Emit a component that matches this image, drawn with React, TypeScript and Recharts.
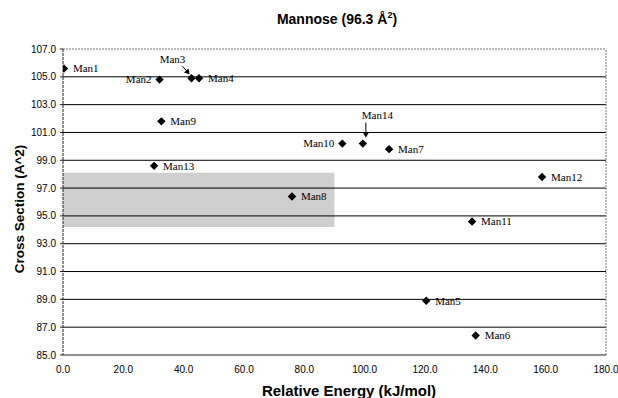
import React from 'react';
import { ScatterChart, Scatter, XAxis, YAxis, ReferenceArea, ReferenceLine } from 'recharts';

const names = ['Man1', 'Man2', 'Man3', 'Man4', 'Man5', 'Man6', 'Man7', 'Man8', 'Man9', 'Man10', 'Man11', 'Man12', 'Man13', 'Man14'];
const energies = [0.3, 32.0, 42.6, 45.1, 120.4, 136.8, 108.1, 75.9, 32.6, 92.6, 135.6, 158.8, 30.2, 99.4];
const sections = [105.6, 104.8, 104.9, 104.9, 88.9, 86.4, 99.8, 96.4, 101.8, 100.2, 94.6, 97.8, 98.6, 100.2];
const xTicks = [0, 20, 40, 60, 80, 100, 120, 140, 160, 180];
const yTicks = [85, 87, 89, 91, 93, 95, 97, 99, 101, 103, 105, 107];
const bandX = [0, 90];
const bandY = [94.2, 98.1];
const leftLabeled = ['Man2', 'Man10'];
const arrowLabeled = ['Man3', 'Man14'];

const data = names.map((n, i) => ({ name: n, x: energies[i], y: sections[i] }));

const SANS = '"Liberation Sans", Arial, sans-serif';
const SERIF = '"Liberation Serif", "Times New Roman", serif';

function arrow(x1: number, y1: number, x2: number, y2: number) {
  const dx = x2 - x1, dy = y2 - y1;
  const len = Math.sqrt(dx * dx + dy * dy);
  const ux = dx / len, uy = dy / len;
  const hl = 5, hw = 3;
  const bx = x2 - ux * hl, by = y2 - uy * hl;
  const p1 = `${bx - uy * hw},${by + ux * hw}`;
  const p2 = `${bx + uy * hw},${by - ux * hw}`;
  return (
    <g>
      <line x1={x1} y1={y1} x2={bx} y2={by} stroke="#000" strokeWidth={1} />
      <polygon points={`${x2},${y2} ${p1} ${p2}`} fill="#000" />
    </g>
  );
}

const Point = (props: any) => {
  const { cx, cy, payload } = props;
  if (cx == null || cy == null) return null;
  const r = 4.2;
  const name = payload.name as string;
  let label: React.ReactNode;
  if (leftLabeled.includes(name)) {
    label = (
      <text x={cx - 8} y={cy} dy="0.35em" textAnchor="end" fontFamily={SERIF} fontSize={11} fill="#000">{name}</text>
    );
  } else if (arrowLabeled.includes(name)) {
    if (name === 'Man3') {
      label = (
        <g>
          <text x={cx - 19} y={cy - 15} textAnchor="middle" fontFamily={SERIF} fontSize={11} fill="#000">{name}</text>
          {arrow(cx - 9, cy - 12, cx - 2, cy - 4)}
        </g>
      );
    } else {
      label = (
        <g>
          <text x={cx - 1} y={cy - 25} textAnchor="start" fontFamily={SERIF} fontSize={11} fill="#000">{name}</text>
          {arrow(cx + 3, cy - 21, cx + 3, cy - 6)}
        </g>
      );
    }
  } else {
    label = (
      <text x={cx + 9} y={cy} dy="0.35em" textAnchor="start" fontFamily={SERIF} fontSize={11} fill="#000">{name}</text>
    );
  }
  return (
    <g>
      <path d={`M${cx},${cy - r}L${cx + r},${cy}L${cx},${cy + r}L${cx - r},${cy}Z`} fill="#000" />
      {label}
    </g>
  );
};

export default function App() {
  return (
    <div style={{ position: 'absolute', left: 0, top: 0, width: 618, height: 398, background: '#fff' }}>
      <div style={{ position: 'absolute', left: 0, width: 674, top: 11, textAlign: 'center', fontFamily: SANS, fontWeight: 'bold', fontSize: 14, lineHeight: '16px' }}>
        Mannose (96.3 Å<sup style={{ fontSize: 9, lineHeight: 0 }}>2</sup>)
      </div>
      <div style={{ position: 'absolute', left: 0, width: 698, top: 382, textAlign: 'center', fontFamily: SANS, fontWeight: 'bold', fontSize: 15, lineHeight: '17px' }}>
        Relative Energy (kJ/mol)
      </div>
      <div style={{ position: 'absolute', left: 20, top: 209, width: 0, height: 0 }}>
        <div style={{ position: 'absolute', left: -100, top: -9, width: 200, textAlign: 'center', transform: 'rotate(-90deg)', fontFamily: SANS, fontWeight: 'bold', fontSize: 13.5, lineHeight: '18px', whiteSpace: 'nowrap' }}>
          Cross Section (A^2)
        </div>
      </div>
      <ScatterChart width={618} height={398} margin={{ top: 49, right: 12, left: 13, bottom: 13 }}>
        <XAxis
          type="number"
          dataKey="x"
          domain={[0, 180]}
          ticks={xTicks}
          tickFormatter={(v: number) => v.toFixed(1)}
          axisLine={{ stroke: '#222' }}
          tickLine={false}
          tickSize={4}
          tickMargin={7}
          height={30}
          tick={{ fontFamily: SANS, fontSize: 10, fill: '#000' }}
          allowDataOverflow
        />
        <YAxis
          type="number"
          dataKey="y"
          domain={[85, 107]}
          ticks={yTicks}
          tickFormatter={(v: number) => v.toFixed(1)}
          axisLine={{ stroke: '#222', strokeDasharray: '3 1' }}
          tickLine={{ stroke: '#222' }}
          tickSize={3}
          tickMargin={4}
          width={50}
          tick={{ fontFamily: SANS, fontSize: 10, fill: '#000' }}
          allowDataOverflow
        />
        <ReferenceArea x1={bandX[0]} x2={bandX[1]} y1={bandY[0]} y2={bandY[1]} fill="#cfcfcf" fillOpacity={1} stroke="none" />
        {yTicks.filter((t) => t !== 85 && t !== 107).map((t) => (
          <ReferenceLine key={t} y={t} stroke="#000" strokeWidth={1} />
        ))}
        <ReferenceLine y={107} stroke="#777" strokeDasharray="2 1" />
        <ReferenceLine x={180} stroke="#777" strokeDasharray="2 1" />
        <Scatter data={data} shape={Point} isAnimationActive={false} />
      </ScatterChart>
    </div>
  );
}
